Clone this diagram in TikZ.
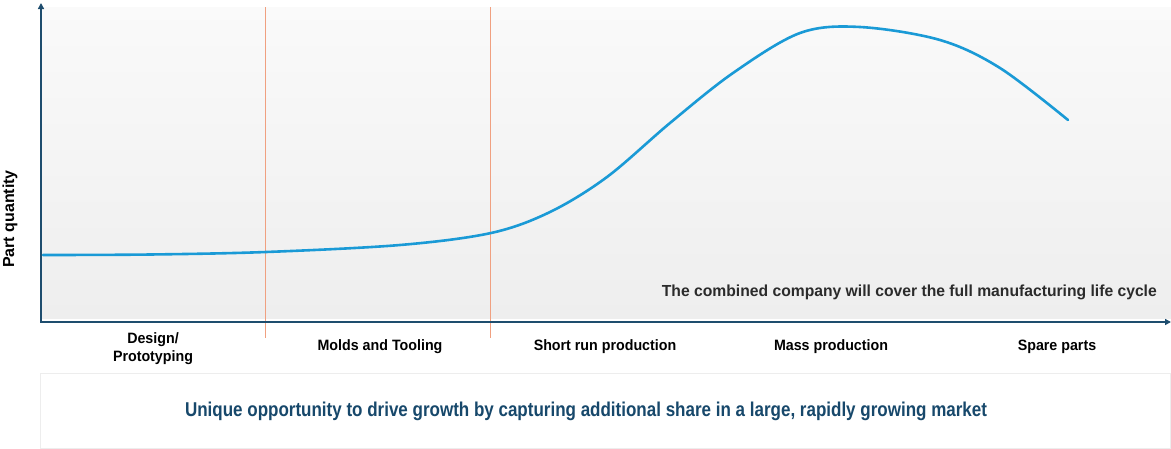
\documentclass[tikz,border=0pt]{standalone}
\usepackage{fontspec}
\setmainfont{Liberation Sans}
\newfontfamily\lblfont[FakeStretch=0.95]{Liberation Sans}
\newfontfamily\notefont[FakeStretch=0.98]{Liberation Sans}
\newfontfamily\bannerfont[FakeStretch=0.85]{Liberation Sans}
\usetikzlibrary{arrows.meta}
\definecolor{axisblue}{HTML}{1E4D6E}
\definecolor{curveblue}{HTML}{1A9AD6}
\definecolor{divorange}{HTML}{F0A080}
\definecolor{paneltop}{HTML}{FAFAFA}
\definecolor{panelbot}{HTML}{EEEEEE}
\definecolor{notegray}{HTML}{2B2B2B}
\definecolor{bannerblue}{HTML}{17486B}
\definecolor{boxedge}{HTML}{EDEDED}
\tikzset{
  axisline/.style={draw=axisblue, line width=2pt, -{Triangle[length=6pt,width=6pt]}},
  divider/.style={draw=divorange, line width=1.5pt},
  stagelabel/.style={font=\lblfont\bfseries\fontsize{15}{18}\selectfont, text=black, align=center, inner sep=0pt},
  axislabel/.style={font=\bfseries\fontsize{16}{18}\selectfont, text=black, inner sep=0pt},
  notelabel/.style={font=\notefont\bfseries\fontsize{16}{18}\selectfont, text=notegray, inner sep=0pt},
  bannerlabel/.style={font=\bannerfont\bfseries\fontsize{20}{22}\selectfont, text=bannerblue, inner sep=0pt},
  curve/.style={draw=curveblue, line width=2.6pt, line cap=round}
}
\begin{document}
\begin{tikzpicture}[x=1pt, y=-1pt]
\useasboundingbox (0,0) rectangle (1171,448);
% background panel
\shade[top color=paneltop, bottom color=panelbot] (42,7) rectangle (1171,318);
% bottom banner box
\draw[draw=boxedge, fill=white, line width=1pt] (40,373) rectangle (1170.5,448.5);
% dividers
\coordinate (d1t) at (265.5,7); \coordinate (d1b) at (265.5,338);
\coordinate (d2t) at (490.5,7); \coordinate (d2b) at (490.5,338);
\draw[divider] (d1t) -- (d1b);
\draw[divider] (d2t) -- (d2b);
% curve
\draw[curve] plot[smooth, tension=0.55] coordinates {(43,255) (150,254.5) (266,252) (400,245) (491,233) (550,212) (607,177) (670,123) (733,73) (800,33) (860,27) (940,40) (1000,68) (1068,120)};
% axes
\coordinate (origin) at (41,322);
\coordinate (ytop) at (41,3);
\coordinate (xend) at (1171,322);
\draw[axisline] (origin) -- (ytop);
\draw[axisline] ([xshift=-1pt]origin) -- (xend);
% labels
\node[stagelabel] (design) at (153,348.5) {Design/\\Prototyping};
\node[stagelabel] (molds) at (380,347) {Molds and Tooling};
\node[stagelabel] (short) at (605,347) {Short run production};
\node[stagelabel] (mass) at (831,347) {Mass production};
\node[stagelabel] (spare) at (1057,347) {Spare parts};
\node[axislabel, rotate=90] (ylabel) at (10,219) {Part quantity};
\node[notelabel, anchor=east] (note) at (1157,292) {The combined company will cover the full manufacturing life cycle};
\node[bannerlabel] (banner) at (586,411) {Unique opportunity to drive growth by capturing additional share in a large, rapidly growing market};
\end{tikzpicture}
\end{document}
